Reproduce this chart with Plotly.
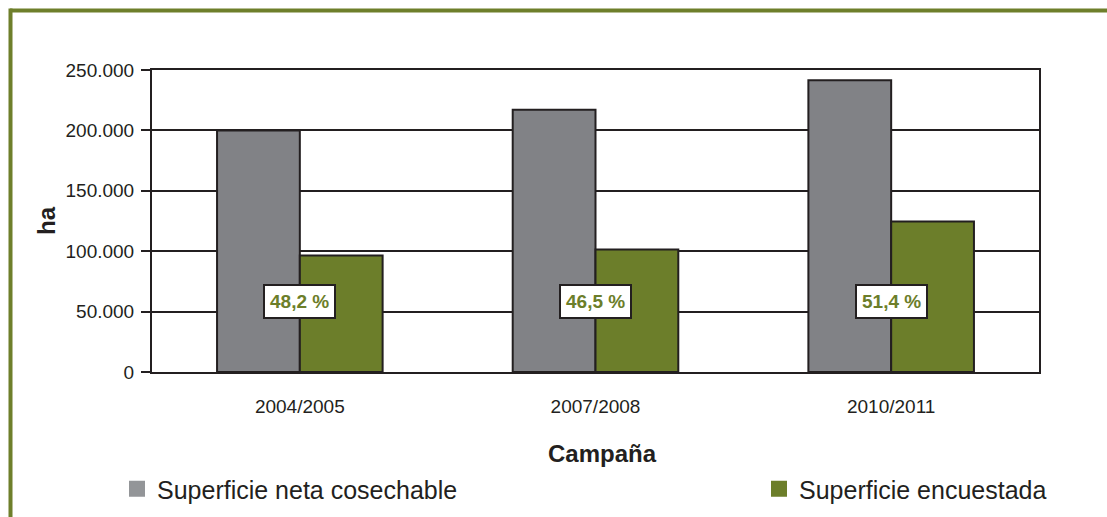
import plotly.graph_objects as go

categories = ["2004/2005", "2007/2008", "2010/2011"]
superficie_neta = [200000, 217000, 241500]
superficie_encuestada = [96400, 101500, 124500]
porcentajes = ["48,2 %", "46,5 %", "51,4 %"]
label_y = [58000, 58000, 58000]
ytick_vals = [0, 50000, 100000, 150000, 200000, 250000]
ytick_text = ["0", "50.000", "100.000", "150.000", "200.000", "250.000"]
series_names = ["Superficie neta cosechable", "Superficie encuestada"]

GRAY = "#818286"
GRAY_LEG = "#939598"
GREEN = "#6C7E2A"
DARK = "#231F20"
FONT = "Liberation Sans, Arial, sans-serif"

W, H = 1107, 517
L, R, T, B = 152, 68, 70, 145
pw, ph = W - L - R, H - T - B


def px_x(x):
    return (x - L) / pw


def px_y(y):
    return (H - B - y) / ph


fig = go.Figure()
fig.add_trace(go.Bar(x=categories, y=superficie_neta, name=series_names[0],
                     marker=dict(color=GRAY, line=dict(color=DARK, width=2)),
                     showlegend=False))
fig.add_trace(go.Bar(x=categories, y=superficie_encuestada, name=series_names[1],
                     marker=dict(color=GREEN, line=dict(color=DARK, width=2)),
                     showlegend=False))
# legend entries
fig.add_trace(go.Scatter(x=[None], y=[None], mode="markers", name=series_names[0],
                         marker=dict(symbol="square", size=16, color=GRAY_LEG),
                         legend="legend"))
fig.add_trace(go.Scatter(x=[None], y=[None], mode="markers", name=series_names[1],
                         marker=dict(symbol="square", size=16, color=GREEN),
                         legend="legend2"))

for c, txt, yv in zip(categories, porcentajes, label_y):
    fig.add_annotation(x=c, y=yv, xref="x", yref="y", text="<b>%s</b>" % txt,
                       showarrow=False, bgcolor="white", bordercolor=DARK,
                       borderwidth=2, borderpad=5,
                       font=dict(family=FONT, size=19, color=GREEN))

fig.add_annotation(x=px_x(46), y=px_y(221), xref="paper", yref="paper",
                   xanchor="center", yanchor="middle",
                   text="<b>ha</b>", textangle=-90, showarrow=False,
                   font=dict(family=FONT, size=24, color=DARK))
fig.add_annotation(x=px_x(602), y=px_y(453), xref="paper", yref="paper",
                   xanchor="center", yanchor="middle",
                   text="<b>Campaña</b>", showarrow=False,
                   font=dict(family=FONT, size=24, color=DARK))

# outer green frame (top and left)
fig.add_shape(type="line", xref="paper", yref="paper",
              x0=px_x(10), x1=px_x(W + 5), y0=px_y(10.5), y1=px_y(10.5),
              line=dict(color="#6E7F2B", width=4))
fig.add_shape(type="line", xref="paper", yref="paper",
              x0=px_x(10.5), x1=px_x(10.5), y0=px_y(8.5), y1=px_y(H + 5),
              line=dict(color="#6E7F2B", width=4))

fig.update_layout(
    width=W, height=H,
    margin=dict(l=L, r=R, t=T, b=B, autoexpand=False),
    paper_bgcolor="white", plot_bgcolor="white",
    barmode="group", bargap=0.44, bargroupgap=0,
    font=dict(family=FONT, color=DARK),
    legend=dict(orientation="h", x=px_x(117), y=px_y(489), xanchor="left",
                yanchor="middle", font=dict(family=FONT, size=25, color=DARK),
                bgcolor="rgba(0,0,0,0)"),
    legend2=dict(orientation="h", x=px_x(759), y=px_y(489), xanchor="left",
                 yanchor="middle", font=dict(family=FONT, size=25, color=DARK),
                 bgcolor="rgba(0,0,0,0)"),
)
fig.update_xaxes(showline=True, linecolor=DARK, linewidth=2, mirror=True,
                 ticks="", ticklabelstandoff=16,
                 tickfont=dict(family=FONT, size=19, color=DARK))
fig.update_yaxes(range=[0, 250000], tickvals=ytick_vals, ticktext=ytick_text,
                 showgrid=True, gridcolor=DARK, gridwidth=2,
                 showline=True, linecolor=DARK, linewidth=2, mirror=True,
                 ticks="outside", ticklen=9, tickwidth=2, tickcolor=DARK,
                 zeroline=False, ticklabelstandoff=3,
                 tickfont=dict(family=FONT, size=19, color=DARK))

fig.write_html(
    "out.html",
    config={"displayModeBar": False},
    post_script=(
        "document.body.style.margin='0';document.body.style.padding='0';"
        "document.body.style.overflow='hidden';"
        "document.documentElement.style.overflow='hidden';"
    ),
)
